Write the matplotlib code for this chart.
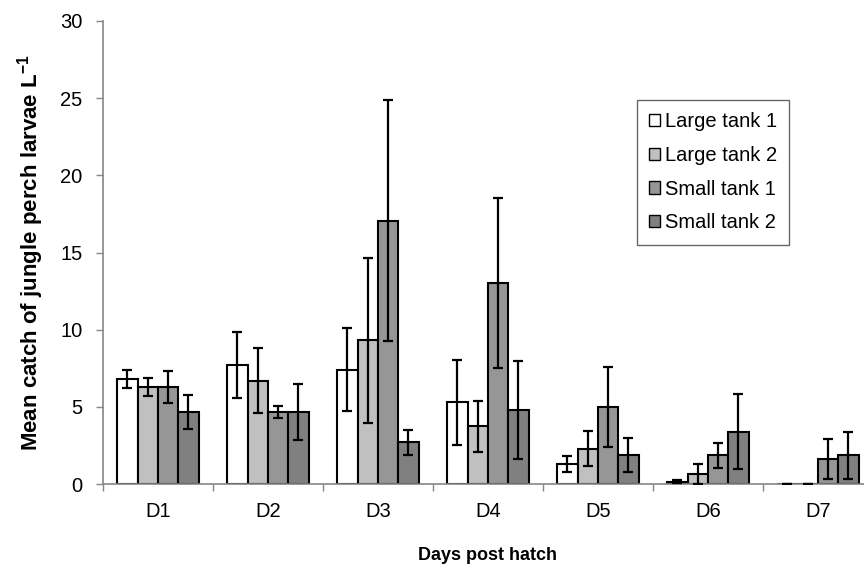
import numpy as np
import matplotlib
matplotlib.use('Agg')
import matplotlib.pyplot as plt

plt.rcParams['font.family'] = ['Liberation Sans', 'DejaVu Sans']
plt.rcParams['mathtext.fontset'] = 'custom'
plt.rcParams['mathtext.rm'] = 'Liberation Sans'
plt.rcParams['mathtext.bf'] = 'Liberation Sans:bold'

days = ['D1', 'D2', 'D3', 'D4', 'D5', 'D6', 'D7']
series = ['Large tank 1', 'Large tank 2', 'Small tank 1', 'Small tank 2']

large1 = [6.8, 7.7, 7.4, 5.3, 1.3, 0.15, 0.0]
large2 = [6.3, 6.7, 9.3, 3.75, 2.3, 0.65, 0.0]
small1 = [6.3, 4.65, 17.05, 13.0, 5.0, 1.85, 1.6]
small2 = [4.65, 4.65, 2.7, 4.8, 1.85, 3.4, 1.85]

large1_err = [0.6, 2.15, 2.7, 2.75, 0.5, 0.1, 0.0]
large2_err = [0.6, 2.1, 5.35, 1.65, 1.15, 0.65, 0.0]
small1_err = [1.05, 0.4, 7.8, 5.5, 2.6, 0.8, 1.3]
small2_err = [1.1, 1.8, 0.8, 3.15, 1.1, 2.45, 1.5]

COLORS = ['white', '#c0c0c0', '#969696', '#808080']
AXIS_GRAY = '#868686'

values = [large1, large2, small1, small2]
errors = [large1_err, large2_err, small1_err, small2_err]

fig = plt.figure(figsize=(8.64, 5.72), dpi=100)
ax = fig.add_axes([0.1192, 0.1538, 0.891, 0.8095])

x = np.arange(len(days))
width = 0.185
for i, (vals, errs) in enumerate(zip(values, errors)):
    pos = x + (i - 1.5) * width
    ax.bar(pos, vals, width, color=COLORS[i], edgecolor='black', linewidth=1.5,
           label=series[i], zorder=2)
    ax.errorbar(pos, vals, yerr=errs, fmt='none', ecolor='black', elinewidth=1.6,
                capsize=3.4, capthick=1.6, zorder=3)

ax.set_xlim(-0.5, 6.5)
ax.set_ylim(0, 30)
ax.set_yticks(np.arange(0, 31, 5))
ax.set_xticks(x)
ax.set_xticklabels(days, fontsize=14.5)
ax.set_xticks(np.arange(-0.5, 7, 1), minor=True)
ax.tick_params(axis='x', which='major', length=0, pad=13)
ax.tick_params(axis='x', which='minor', length=5, color=AXIS_GRAY, width=1)
ax.tick_params(axis='y', length=4.8, color=AXIS_GRAY, width=1, labelsize=14.5, pad=10)

for side in ['top', 'right']:
    ax.spines[side].set_visible(False)
for side in ['left', 'bottom']:
    ax.spines[side].set_color(AXIS_GRAY)
    ax.spines[side].set_linewidth(1.2)

ax.set_xlabel('Days post hatch', fontsize=13, fontweight='bold', labelpad=19)
ax.set_ylabel(r'Mean catch of jungle perch larvae L$^{\mathbf{-1}}$', fontsize=16,
              fontweight='bold', labelpad=10)

leg = ax.legend(loc='upper left', bbox_to_anchor=(0.6937, 0.83), fontsize=14.5,
                frameon=True, fancybox=False, edgecolor='#404040',
                handlelength=0.55, handleheight=0.55, handletextpad=0.25,
                labelspacing=0.74, borderpad=0.6, borderaxespad=0)
leg.get_frame().set_linewidth(1.0)
for h in leg.legend_handles:
    h.set_linewidth(1.0)

fig.savefig('out.png', dpi=100)
